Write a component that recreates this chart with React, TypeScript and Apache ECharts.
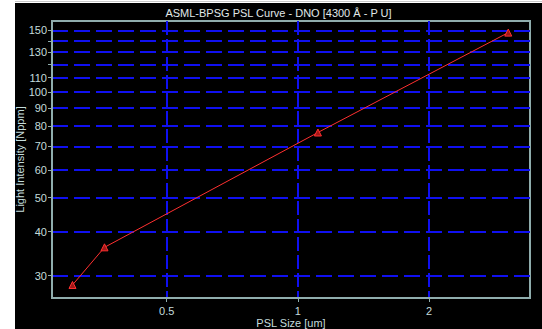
import React, { useEffect, useRef } from "react";
import * as echarts from "echarts";

const titleText = "ASML-BPSG PSL Curve - DNO [4300 Å - P U]";
const xName = "PSL Size [um]";
const yName = "Light Intensity [Nppm]";
const pslSize = [0.304, 0.36, 1.112, 3.04];
const intensity = [28.2, 36.1, 76.7, 147.7];
const xTicks = [0.5, 1, 2];
const yLabelTicks = [30, 40, 50, 60, 70, 80, 90, 100, 110, 130, 150];
const yGridTicks = [30, 40, 50, 60, 70, 80, 90, 100, 110, 120, 130, 140, 150];
const xRange = [0.2728, 3.41];
const yRange = [25.89, 159.4];

export default function App() {
  const ref = useRef<HTMLDivElement>(null);
  useEffect(() => {
    if (!ref.current) return;
    const chart = echarts.init(ref.current, null, { renderer: "svg" });
    const font = "Liberation Sans";
    const labelColor = "#c4dcdc";
    const gridColor = "#1010f0";
    const borderColor = "#8fadad";
    chart.setOption({
      animation: false,
      backgroundColor: "#000000",
      title: {
        text: titleText,
        left: "center",
        top: 4,
        padding: 0,
        textStyle: { color: "#e0e8e8", fontSize: 11, fontWeight: "normal", fontFamily: font },
      },
      grid: {
        left: 37,
        top: 18,
        right: 12,
        bottom: 31,
        containLabel: false,
        outerBoundsMode: "none",
        show: true,
        borderColor: borderColor,
        borderWidth: 2,
        backgroundColor: "transparent",
      },
      xAxis: {
        type: "log",
        logBase: 2,
        min: xRange[0],
        max: xRange[1],
        name: xName,
        nameLocation: "middle",
        nameGap: 19,
        nameMoveOverlap: false,
        nameTextStyle: { color: labelColor, fontSize: 11, fontFamily: font },
        axisLine: { show: true, lineStyle: { color: borderColor, width: 2 } },
        axisTick: { show: true, length: 4, customValues: xTicks, lineStyle: { color: borderColor } },
        axisLabel: { customValues: xTicks, color: labelColor, fontSize: 11, fontFamily: font, margin: 7 },
        splitLine: { show: true, lineStyle: { color: gridColor, width: 2, type: [14, 4] } },
        minorTick: { show: false },
      },
      yAxis: {
        type: "log",
        logBase: 10,
        min: yRange[0],
        max: yRange[1],
        name: yName,
        nameLocation: "middle",
        nameGap: 27,
        nameMoveOverlap: false,
        nameTextStyle: { color: labelColor, fontSize: 11, fontFamily: font },
        axisLine: { show: true, lineStyle: { color: borderColor, width: 2 } },
        axisTick: { show: true, length: 4, customValues: yGridTicks, lineStyle: { color: borderColor } },
        axisLabel: { customValues: yLabelTicks, color: labelColor, fontSize: 11, fontFamily: font, margin: 5 },
        splitLine: { show: true, lineStyle: { color: gridColor, width: 2, type: [16, 6] } },
      },
      series: [
        {
          type: "line",
          data: pslSize.map((x, i) => [x, intensity[i]]),
          symbol: "triangle",
          symbolSize: 7,
          lineStyle: { color: "#ff3030", width: 1 },
          itemStyle: { color: "#a01818", borderColor: "#ff3030", borderWidth: 1 },
        },
      ],
    });
    return () => chart.dispose();
  }, []);
  return (
    <div style={{ position: "absolute", left: 0, top: 0, width: 542, height: 329, background: "#ffffff", overflow: "hidden" }}>
      <div style={{ position: "absolute", left: 15, top: 1, width: 527, height: 1, background: "#c8c8c8" }} />
      <div ref={ref} style={{ position: "absolute", left: 15, top: 3, width: 527, height: 326 }} />
    </div>
  );
}
